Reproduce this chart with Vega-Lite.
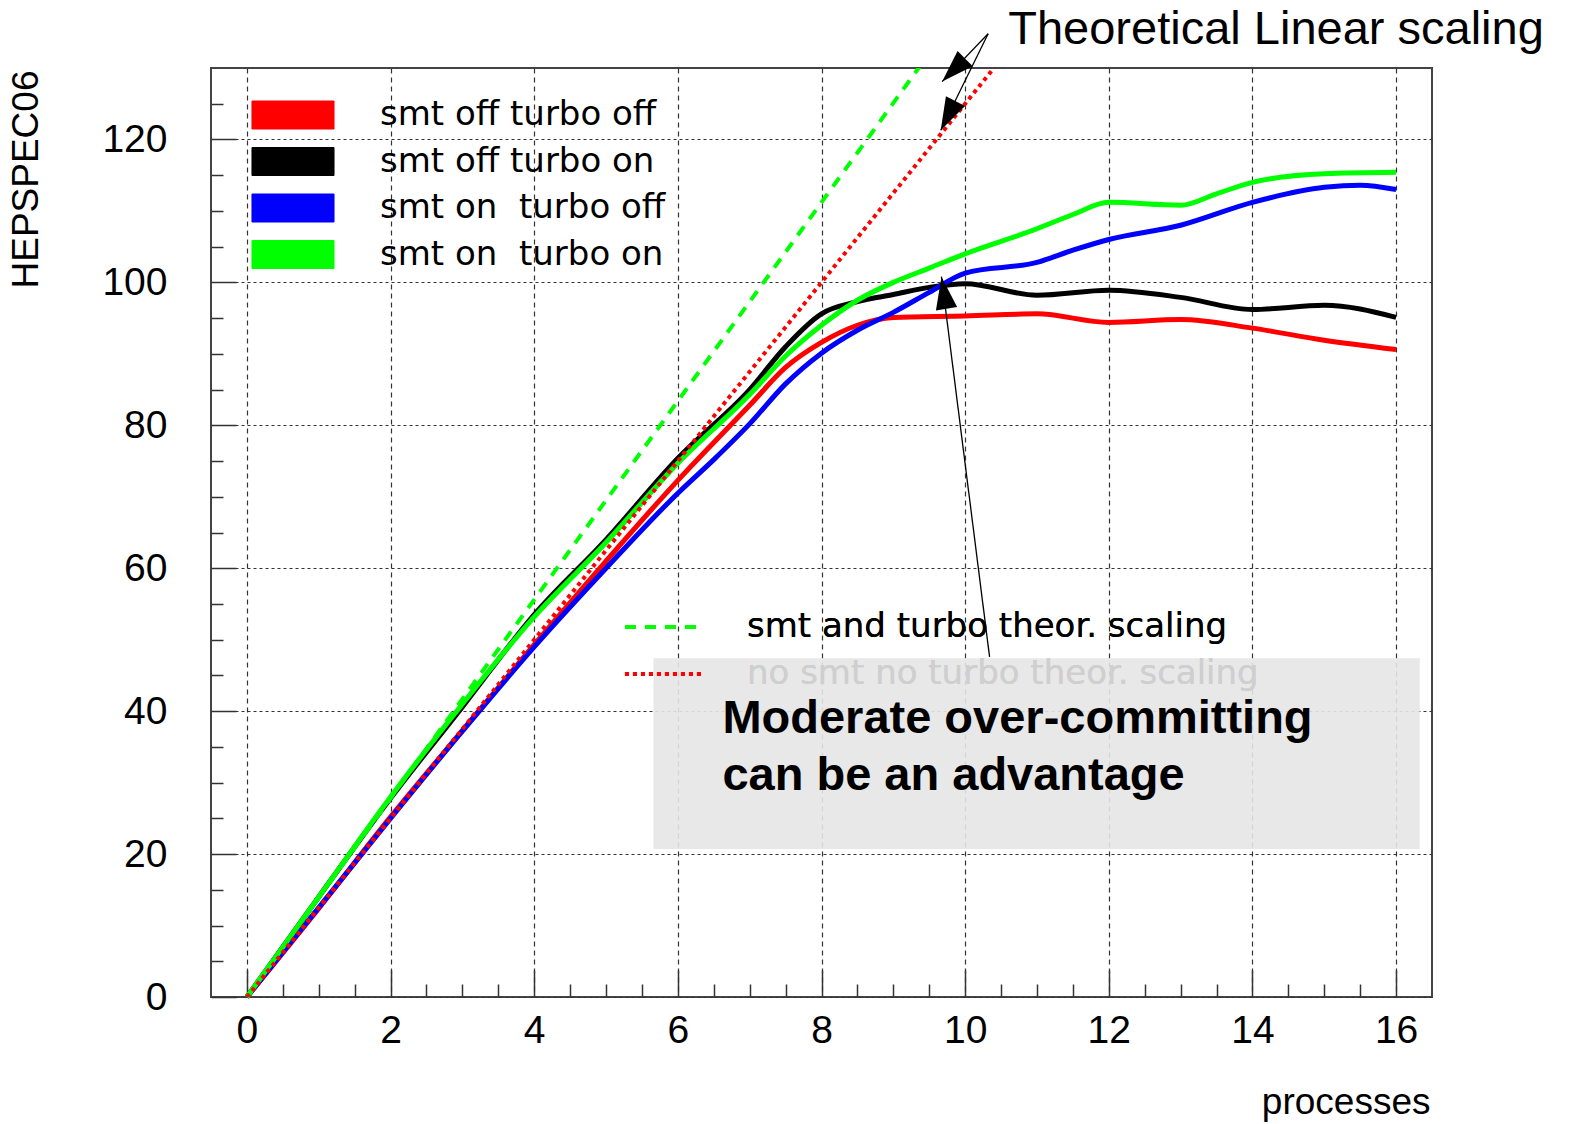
{
  "$schema": "https://vega.github.io/schema/vega-lite/v6.json",
  "width": 1221,
  "height": 929,
  "autosize": "none",
  "padding": {"left": 211, "top": 68, "right": 137, "bottom": 127},
  "background": "white",
  "config": {"view": {"stroke": "#444", "strokeWidth": 2}, "font": "Liberation Sans"},
  "datasets": {
    "curves": [
      {"series": "smt off turbo off", "x": 0, "y": 0},
      {"series": "smt off turbo off", "x": 1, "y": 12.4},
      {"series": "smt off turbo off", "x": 2, "y": 25.2},
      {"series": "smt off turbo off", "x": 3, "y": 37.3},
      {"series": "smt off turbo off", "x": 4, "y": 49.3},
      {"series": "smt off turbo off", "x": 5, "y": 61},
      {"series": "smt off turbo off", "x": 6, "y": 72.3},
      {"series": "smt off turbo off", "x": 7, "y": 82.8},
      {"series": "smt off turbo off", "x": 7.5, "y": 88.1},
      {"series": "smt off turbo off", "x": 8, "y": 91.6},
      {"series": "smt off turbo off", "x": 8.5, "y": 94},
      {"series": "smt off turbo off", "x": 9, "y": 95.1},
      {"series": "smt off turbo off", "x": 10, "y": 95.3},
      {"series": "smt off turbo off", "x": 11, "y": 95.6},
      {"series": "smt off turbo off", "x": 12, "y": 94.4},
      {"series": "smt off turbo off", "x": 13, "y": 94.8},
      {"series": "smt off turbo off", "x": 14, "y": 93.6},
      {"series": "smt off turbo off", "x": 15, "y": 91.9},
      {"series": "smt off turbo off", "x": 16, "y": 90.6},
      {"series": "smt off turbo on", "x": 0, "y": 0},
      {"series": "smt off turbo on", "x": 1, "y": 14},
      {"series": "smt off turbo on", "x": 2, "y": 27.8},
      {"series": "smt off turbo on", "x": 3, "y": 40.6},
      {"series": "smt off turbo on", "x": 4, "y": 53.5},
      {"series": "smt off turbo on", "x": 5, "y": 64},
      {"series": "smt off turbo on", "x": 6, "y": 75.4},
      {"series": "smt off turbo on", "x": 7, "y": 85},
      {"series": "smt off turbo on", "x": 7.5, "y": 91},
      {"series": "smt off turbo on", "x": 8, "y": 95.6},
      {"series": "smt off turbo on", "x": 8.5, "y": 97.3},
      {"series": "smt off turbo on", "x": 9, "y": 98.3},
      {"series": "smt off turbo on", "x": 9.5, "y": 99.3},
      {"series": "smt off turbo on", "x": 10, "y": 99.8},
      {"series": "smt off turbo on", "x": 11, "y": 98.2},
      {"series": "smt off turbo on", "x": 12, "y": 98.9},
      {"series": "smt off turbo on", "x": 13, "y": 97.9},
      {"series": "smt off turbo on", "x": 14, "y": 96.2},
      {"series": "smt off turbo on", "x": 15, "y": 96.8},
      {"series": "smt off turbo on", "x": 16, "y": 95.1},
      {"series": "smt on\u00a0 turbo off", "x": 0, "y": 0},
      {"series": "smt on\u00a0 turbo off", "x": 1, "y": 12.5},
      {"series": "smt on\u00a0 turbo off", "x": 2, "y": 25},
      {"series": "smt on\u00a0 turbo off", "x": 3, "y": 37.2},
      {"series": "smt on\u00a0 turbo off", "x": 4, "y": 49},
      {"series": "smt on\u00a0 turbo off", "x": 5, "y": 60},
      {"series": "smt on\u00a0 turbo off", "x": 6, "y": 70.5},
      {"series": "smt on\u00a0 turbo off", "x": 6.5, "y": 75.2},
      {"series": "smt on\u00a0 turbo off", "x": 7, "y": 80.2},
      {"series": "smt on\u00a0 turbo off", "x": 7.5, "y": 85.8},
      {"series": "smt on\u00a0 turbo off", "x": 8, "y": 90.1},
      {"series": "smt on\u00a0 turbo off", "x": 8.5, "y": 93.3},
      {"series": "smt on\u00a0 turbo off", "x": 9, "y": 95.8},
      {"series": "smt on\u00a0 turbo off", "x": 9.5, "y": 98.6},
      {"series": "smt on\u00a0 turbo off", "x": 10, "y": 101.3},
      {"series": "smt on\u00a0 turbo off", "x": 11, "y": 102.8},
      {"series": "smt on\u00a0 turbo off", "x": 11.5, "y": 104.5},
      {"series": "smt on\u00a0 turbo off", "x": 12, "y": 106},
      {"series": "smt on\u00a0 turbo off", "x": 13, "y": 108},
      {"series": "smt on\u00a0 turbo off", "x": 14, "y": 111.2},
      {"series": "smt on\u00a0 turbo off", "x": 15, "y": 113.3},
      {"series": "smt on\u00a0 turbo off", "x": 15.5, "y": 113.6},
      {"series": "smt on\u00a0 turbo off", "x": 16, "y": 113},
      {"series": "smt on\u00a0 turbo on", "x": 0, "y": 0},
      {"series": "smt on\u00a0 turbo on", "x": 1, "y": 14},
      {"series": "smt on\u00a0 turbo on", "x": 2, "y": 28},
      {"series": "smt on\u00a0 turbo on", "x": 3, "y": 41},
      {"series": "smt on\u00a0 turbo on", "x": 4, "y": 53.2},
      {"series": "smt on\u00a0 turbo on", "x": 5, "y": 63.6},
      {"series": "smt on\u00a0 turbo on", "x": 6, "y": 74.7},
      {"series": "smt on\u00a0 turbo on", "x": 7, "y": 84.3},
      {"series": "smt on\u00a0 turbo on", "x": 7.5, "y": 89.7},
      {"series": "smt on\u00a0 turbo on", "x": 8, "y": 94},
      {"series": "smt on\u00a0 turbo on", "x": 8.5, "y": 97.5},
      {"series": "smt on\u00a0 turbo on", "x": 9, "y": 100},
      {"series": "smt on\u00a0 turbo on", "x": 9.5, "y": 102},
      {"series": "smt on\u00a0 turbo on", "x": 10, "y": 104},
      {"series": "smt on\u00a0 turbo on", "x": 11, "y": 107.5},
      {"series": "smt on\u00a0 turbo on", "x": 11.5, "y": 109.5},
      {"series": "smt on\u00a0 turbo on", "x": 12, "y": 111.2},
      {"series": "smt on\u00a0 turbo on", "x": 13, "y": 110.8},
      {"series": "smt on\u00a0 turbo on", "x": 13.5, "y": 112.4},
      {"series": "smt on\u00a0 turbo on", "x": 14, "y": 114},
      {"series": "smt on\u00a0 turbo on", "x": 15, "y": 115.2},
      {"series": "smt on\u00a0 turbo on", "x": 16, "y": 115.4}
    ],
    "theory": [
      {"theory": "smt and turbo theor. scaling", "x": 0, "y": 0},
      {"theory": "smt and turbo theor. scaling", "x": 16, "y": 222.4},
      {"theory": "no smt no turbo theor. scaling", "x": 0, "y": 0},
      {"theory": "no smt no turbo theor. scaling", "x": 16, "y": 200}
    ],
    "arrows": [
      {"id": 1, "x0": 10.32, "y0": 134.8, "x1": 9.68, "y1": 128.1},
      {"id": 2, "x0": 10.32, "y0": 134.8, "x1": 9.66, "y1": 121.3},
      {"id": 3, "x0": 10.34, "y0": 47.6, "x1": 9.67, "y1": 100.8}
    ],
    "box": [{"x0": 5.66, "x1": 16.33, "y0": 20.7, "y1": 47.4}]
  },
  "resolve": {
    "axis": {"x": "independent", "y": "independent"},
    "scale": {"color": "independent"},
    "legend": {"color": "independent"}
  },
  "layer": [
    {
      "data": {"name": "curves"},
      "mark": {"type": "line", "strokeWidth": 5, "interpolate": "monotone"},
      "encoding": {
        "x": {
          "field": "x", "type": "quantitative",
          "scale": {"domain": [-0.5, 16.5], "nice": false, "zero": false},
          "axis": {
            "orient": "bottom",
            "values": [0, 2, 4, 6, 8, 10, 12, 14, 16],
            "format": "d",
            "grid": true, "gridColor": "#333", "gridDash": [5, 4], "gridWidth": 1.2, "gridOpacity": 1,
            "domain": false,
            "tickSize": -27, "tickColor": "#333", "tickWidth": 1.5,
            "labelFont": "Liberation Sans", "labelFontSize": 39, "labelColor": "black", "labelPadding": 41,
            "labelFlush": false, "labelOverlap": false,
            "title": "processes", "titleFont": "Liberation Sans", "titleFontSize": 37, "titleFontWeight": "normal",
            "titleColor": "black", "titleAlign": "right", "titleBaseline": "alphabetic",
            "titleX": 1219, "titleY": 116
          }
        },
        "y": {
          "field": "y", "type": "quantitative",
          "scale": {"domain": [0, 130], "nice": false, "zero": false},
          "axis": {
            "orient": "left",
            "values": [0, 20, 40, 60, 80, 100, 120],
            "format": "d",
            "grid": true, "gridColor": "#333", "gridDash": [3, 3], "gridWidth": 1.2, "gridOpacity": 1,
            "domain": false,
            "tickSize": -25, "tickColor": "#333", "tickWidth": 1.5,
            "labelFont": "Liberation Sans", "labelFontSize": 39, "labelColor": "black", "labelPadding": 69,
            "labelFlush": false, "labelOverlap": false,
            "title": "HEPSPEC06", "titleFont": "Liberation Sans", "titleFontSize": 37, "titleFontWeight": "normal",
            "titleColor": "black", "titleAngle": 270, "titleAlign": "right", "titleBaseline": "middle",
            "titleX": -185, "titleY": 2
          }
        },
        "color": {
          "field": "series", "type": "nominal",
          "scale": {
            "domain": ["smt off turbo off", "smt off turbo on", "smt on\u00a0 turbo off", "smt on\u00a0 turbo on"],
            "range": ["#ff0000", "#000000", "#0000ff", "#00ff00"]
          },
          "legend": {
            "orient": "none", "legendX": 65, "legendY": 30, "title": null, "padding": 0,
            "symbolType": "M-2.93,-1H2.93V1H-2.93Z", "symbolSize": 784, "symbolStrokeWidth": 1,
            "labelFont": "DejaVu Sans", "labelFontSize": 34, "labelColor": "black", "labelOffset": 70,
            "labelLimit": 0, "rowPadding": 12.5,
            "encode": {
              "symbols": {
                "update": {
                  "fill": {"signal": "datum.value === 'smt off turbo off' ? '#ff0000' : datum.value === 'smt off turbo on' ? '#000000' : datum.value === 'smt on\u00a0 turbo off' ? '#0000ff' : '#00ff00'"},
                  "stroke": {"value": "#333"},
                  "strokeWidth": {"value": 1},
                  "opacity": {"value": 1}
                }
              }
            }
          }
        }
      }
    },
    {
      "data": {"name": "theory"},
      "mark": {"type": "line", "strokeWidth": 4, "clip": true},
      "encoding": {
        "x": {
          "field": "x", "type": "quantitative",
          "axis": {
            "orient": "bottom",
            "values": [0.5, 1, 1.5, 2.5, 3, 3.5, 4.5, 5, 5.5, 6.5, 7, 7.5, 8.5, 9, 9.5, 10.5, 11, 11.5, 12.5, 13, 13.5, 14.5, 15, 15.5],
            "grid": false, "labels": false, "domain": false, "title": null,
            "tickSize": -13, "tickColor": "#333", "tickWidth": 1.5
          }
        },
        "y": {
          "field": "y", "type": "quantitative",
          "axis": {
            "orient": "left",
            "values": [5, 10, 15, 25, 30, 35, 45, 50, 55, 65, 70, 75, 85, 90, 95, 105, 110, 115, 125],
            "grid": false, "labels": false, "domain": false, "title": null,
            "tickSize": -12, "tickColor": "#333", "tickWidth": 1.5
          }
        },
        "color": {
          "field": "theory", "type": "nominal",
          "scale": {"domain": ["smt and turbo theor. scaling", "no smt no turbo theor. scaling"], "range": ["#00ff00", "#ff0000"]},
          "legend": {
            "orient": "none", "legendX": 436, "legendY": 542, "title": null, "padding": 0,
            "symbolType": "M-2.79,0H2.79", "symbolSize": 784, "symbolStrokeWidth": 4,
            "labelFont": "DejaVu Sans", "labelFontSize": 34, "labelColor": "black", "labelOffset": 66,
            "labelLimit": 0, "rowPadding": 13,
            "encode": {
              "symbols": {"update": {"strokeDash": {"signal": "datum.value === 'smt and turbo theor. scaling' ? [11, 9] : [4, 4]"}, "opacity": {"value": 1}}},
              "labels": {"update": {"fill": {"signal": "datum.value === 'no smt no turbo theor. scaling' ? '#cfcfcf' : 'black'"}}}
            }
          }
        },
        "strokeDash": {
          "field": "theory", "type": "nominal",
          "scale": {"domain": ["smt and turbo theor. scaling", "no smt no turbo theor. scaling"], "range": [[11, 9], [4, 4]]},
          "legend": {
            "orient": "none", "legendX": 436, "legendY": 542, "title": null, "padding": 0,
            "symbolType": "M-2.79,0H2.79", "symbolSize": 784, "symbolStrokeWidth": 4,
            "labelFont": "DejaVu Sans", "labelFontSize": 34, "labelColor": "black", "labelOffset": 66,
            "labelLimit": 0, "rowPadding": 13,
            "encode": {
              "symbols": {"update": {"strokeDash": {"signal": "datum.value === 'smt and turbo theor. scaling' ? [11, 9] : [4, 4]"}, "opacity": {"value": 1}}},
              "labels": {"update": {"fill": {"signal": "datum.value === 'no smt no turbo theor. scaling' ? '#cfcfcf' : 'black'"}}}
            }
          }
        }
      }
    },
    {
      "data": {"name": "arrows"},
      "mark": {"type": "rule", "strokeWidth": 1.3, "color": "black"},
      "encoding": {
        "x": {"field": "x0", "type": "quantitative", "axis": null},
        "y": {"field": "y0", "type": "quantitative", "axis": null},
        "x2": {"field": "x1"},
        "y2": {"field": "y1"}
      }
    },
    {
      "data": {"name": "arrows"},
      "transform": [{"filter": "datum.id === 1"}],
      "mark": {"type": "point", "shape": "M0,0L-0.33,1L0.33,1Z", "size": 4225, "angle": 225, "filled": true, "color": "black", "opacity": 1, "strokeWidth": 0},
      "encoding": {
        "x": {"field": "x1", "type": "quantitative", "axis": null},
        "y": {"field": "y1", "type": "quantitative", "axis": null}
      }
    },
    {
      "data": {"name": "arrows"},
      "transform": [{"filter": "datum.id === 2"}],
      "mark": {"type": "point", "shape": "M0,0L-0.33,1L0.33,1Z", "size": 4225, "angle": 207, "filled": true, "color": "black", "opacity": 1, "strokeWidth": 0},
      "encoding": {
        "x": {"field": "x1", "type": "quantitative", "axis": null},
        "y": {"field": "y1", "type": "quantitative", "axis": null}
      }
    },
    {
      "data": {"name": "arrows"},
      "transform": [{"filter": "datum.id === 3"}],
      "mark": {"type": "point", "shape": "M0,0L-0.33,1L0.33,1Z", "size": 4225, "angle": 351, "filled": true, "color": "black", "opacity": 1, "strokeWidth": 0},
      "encoding": {
        "x": {"field": "x1", "type": "quantitative", "axis": null},
        "y": {"field": "y1", "type": "quantitative", "axis": null}
      }
    },
    {
      "data": {"name": "box"},
      "mark": {"type": "rect", "color": "#e6e6e6", "opacity": 0.9},
      "encoding": {
        "x": {"field": "x0", "type": "quantitative", "axis": null},
        "x2": {"field": "x1"},
        "y": {"field": "y0", "type": "quantitative", "axis": null},
        "y2": {"field": "y1"}
      }
    },
    {
      "data": {"values": [{"label": "Moderate over-committing\ncan be an advantage", "x": 6.62, "y": 36.9}]},
      "mark": {"type": "text", "font": "Liberation Sans", "fontSize": 47, "fontWeight": "bold", "align": "left", "baseline": "alphabetic", "lineBreak": "\n", "lineHeight": 57, "color": "black"},
      "encoding": {
        "x": {"field": "x", "type": "quantitative", "axis": null},
        "y": {"field": "y", "type": "quantitative", "axis": null},
        "text": {"field": "label"}
      }
    },
    {
      "data": {"values": [{"label": "Theoretical Linear scaling", "x": 10.6, "y": 133.4}]},
      "mark": {"type": "text", "font": "Liberation Sans", "fontSize": 47, "align": "left", "baseline": "alphabetic", "color": "black"},
      "encoding": {
        "x": {"field": "x", "type": "quantitative", "axis": null},
        "y": {"field": "y", "type": "quantitative", "axis": null},
        "text": {"field": "label"}
      }
    }
  ]
}
